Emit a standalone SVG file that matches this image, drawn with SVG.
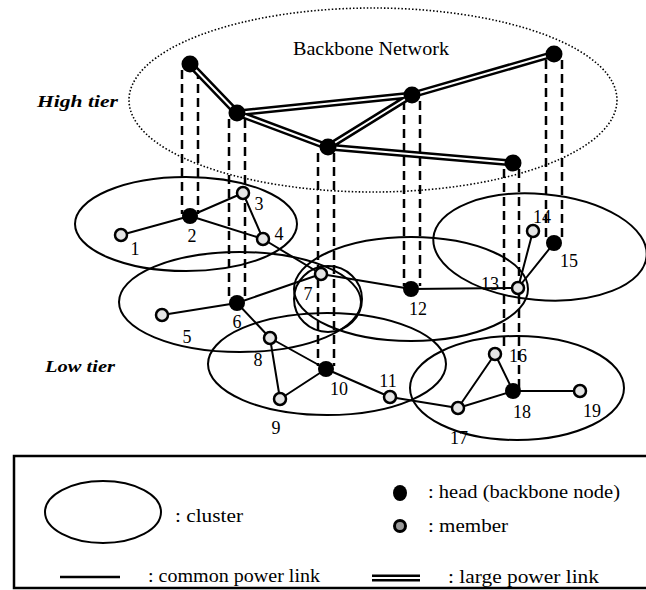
<svg xmlns="http://www.w3.org/2000/svg" width="646" height="590" viewBox="0 0 646 590">
<style>
text{font-family:"Liberation Serif","Times New Roman",serif;fill:#000}
.lbl{font-size:18px;text-anchor:middle}
.tier{font-size:17px;font-weight:bold;font-style:italic}
.leg{font-size:18px}
.cl{fill:none;stroke:#000;stroke-width:2}
.bb{fill:none;stroke:#000;stroke-width:1.6;stroke-dasharray:1.5 2}
.dash{stroke:#000;stroke-width:2.5;stroke-dasharray:9 5;fill:none}
.ln{stroke:#000;stroke-width:2;fill:none}
.big{stroke:#000;stroke-width:7;fill:none;stroke-linecap:round}
.bigw{stroke:#fff;stroke-width:2;fill:none}
.head{fill:#000}
.mem{fill:#e4e4e4;stroke:#000;stroke-width:2.5}
</style>
<rect width="646" height="590" fill="#fff"/>

<g id="clusters">
<ellipse id="backbone" class="bb" cx="373" cy="100" rx="244" ry="92"/>
<ellipse id="c1" class="cl" cx="186" cy="224" rx="111" ry="47"/>
<ellipse id="c2" class="cl" cx="240" cy="302" rx="121" ry="50"/>
<ellipse id="c3" class="cl" cx="328" cy="299" rx="34" ry="33"/>
<ellipse id="c4" class="cl" cx="411" cy="289" rx="117" ry="52"/>
<ellipse id="c5" class="cl" cx="540" cy="247" rx="107" ry="53" transform="rotate(5 540 247)"/>
<ellipse id="c6" class="cl" cx="327" cy="364" rx="119" ry="51"/>
<ellipse id="c7" class="cl" cx="517" cy="388" rx="107" ry="52"/>
</g>

<g id="connectors">
<g id="vertical-links">
<line class="dash" x1="182" y1="70" x2="182" y2="214"/>
<line class="dash" x1="198" y1="70" x2="198" y2="214"/>
<line class="dash" x1="229" y1="119" x2="229" y2="300"/>
<line class="dash" x1="245" y1="119" x2="245" y2="300"/>
<line class="dash" x1="318" y1="153" x2="318" y2="366"/>
<line class="dash" x1="334" y1="153" x2="334" y2="366"/>
<line class="dash" x1="404" y1="101" x2="404" y2="286"/>
<line class="dash" x1="420" y1="101" x2="420" y2="286"/>
<line class="dash" x1="504" y1="169" x2="504" y2="348"/>
<line class="dash" x1="519" y1="169" x2="519" y2="388"/>
<line class="dash" x1="546" y1="60" x2="546" y2="238"/>
<line class="dash" x1="562" y1="60" x2="562" y2="238"/>
</g>
<g id="large-links">
<path class="big" d="M190 64L237 113M237 113L412 95M237 113L328 147M328 147L412 95M412 95L554 54M328 147L513 163"/>
<path class="bigw" d="M190 64L237 113M237 113L412 95M237 113L328 147M328 147L412 95M412 95L554 54M328 147L513 163"/>
</g>
<g id="common-links">
<path class="ln" d="M121 235L190 216M190 216L243 193M190 216L263 239M243 193L263 239M263 239L321 274M162 315L237 303M237 303L321 274M237 303L270 338M270 338L326 369M270 338L280 399M280 399L326 369M326 369L390 397M390 397L458 408M321 274L411 289M411 289L518 288M518 288L533 231M518 288L554 243M458 408L495 354M495 354L513 391M458 408L513 391M513 391L580 391"/>
</g>
</g>

<g id="high-nodes">
<circle id="h1" class="head" cx="190" cy="64" r="8.5"/>
<circle id="h2" class="head" cx="237" cy="113" r="8.5"/>
<circle id="h3" class="head" cx="412" cy="95" r="8.5"/>
<circle id="h4" class="head" cx="554" cy="54" r="8.5"/>
<circle id="h5" class="head" cx="328" cy="147" r="8.5"/>
<circle id="h6" class="head" cx="513" cy="163" r="8.5"/>
</g>

<g id="n1"><circle class="mem" cx="121" cy="235" r="6"/><text class="lbl" x="135" y="255">1</text></g>
<g id="n2"><circle class="head" cx="190" cy="216" r="8"/><text class="lbl" x="192" y="242">2</text></g>
<g id="n3"><circle class="mem" cx="243" cy="193" r="6"/><text class="lbl" x="259" y="210">3</text></g>
<g id="n4"><circle class="mem" cx="263" cy="239" r="6"/><text class="lbl" x="279" y="240">4</text></g>
<g id="n5"><circle class="mem" cx="162" cy="315" r="6"/><text class="lbl" x="187" y="343">5</text></g>
<g id="n6"><circle class="head" cx="237" cy="303" r="8"/><text class="lbl" x="237" y="328">6</text></g>
<g id="n7"><circle class="mem" cx="321" cy="274" r="6"/><text class="lbl" x="308" y="300">7</text></g>
<g id="n8"><circle class="mem" cx="270" cy="338" r="6"/><text class="lbl" x="258" y="366">8</text></g>
<g id="n9"><circle class="mem" cx="280" cy="399" r="6"/><text class="lbl" x="276" y="434">9</text></g>
<g id="n10"><circle class="head" cx="326" cy="369" r="8"/><text class="lbl" x="339" y="395">10</text></g>
<g id="n11"><circle class="mem" cx="390" cy="397" r="6"/><text class="lbl" x="388" y="387">11</text></g>
<g id="n12"><circle class="head" cx="411" cy="289" r="8"/><text class="lbl" x="418" y="315">12</text></g>
<g id="n13"><circle class="mem" cx="518" cy="288" r="6"/><text class="lbl" x="490" y="290">13</text></g>
<g id="n14"><circle class="mem" cx="533" cy="231" r="6"/><text class="lbl" x="542" y="223">14</text></g>
<g id="n15"><circle class="head" cx="554" cy="243" r="8"/><text class="lbl" x="569" y="267">15</text></g>
<g id="n16"><circle class="mem" cx="495" cy="354" r="6"/><text class="lbl" x="518" y="362">16</text></g>
<g id="n17"><circle class="mem" cx="458" cy="408" r="6"/><text class="lbl" x="459" y="444">17</text></g>
<g id="n18"><circle class="head" cx="513" cy="391" r="8"/><text class="lbl" x="522" y="418">18</text></g>
<g id="n19"><circle class="mem" cx="580" cy="391" r="6"/><text class="lbl" x="592" y="417">19</text></g>

<g id="labels">
<text x="293" y="55" font-size="19" textLength="156" lengthAdjust="spacingAndGlyphs">Backbone Network</text>
<text class="tier" x="37" y="107" textLength="81" lengthAdjust="spacingAndGlyphs">High tier</text>
<text class="tier" x="45" y="372" textLength="70" lengthAdjust="spacingAndGlyphs">Low tier</text>
</g>

<g id="legend">
<rect x="14" y="456" width="640" height="132" fill="none" stroke="#000" stroke-width="2.5"/>
<ellipse class="cl" cx="103" cy="512" rx="58" ry="31" stroke-width="2.5"/>
<text class="leg" x="175" y="522" textLength="68" lengthAdjust="spacingAndGlyphs">: cluster</text>
<ellipse class="head" cx="400" cy="493" rx="7" ry="8"/>
<text class="leg" x="428" y="498" textLength="192" lengthAdjust="spacingAndGlyphs">: head (backbone node)</text>
<circle cx="400" cy="526" r="5.5" fill="#999" stroke="#000" stroke-width="3"/>
<text class="leg" x="428" y="532" textLength="80" lengthAdjust="spacingAndGlyphs">: member</text>
<line x1="60" y1="577" x2="120" y2="577" stroke="#000" stroke-width="2.5"/>
<text class="leg" x="148" y="582" textLength="172" lengthAdjust="spacingAndGlyphs">: common power link</text>
<line x1="372" y1="578" x2="420" y2="578" stroke="#000" stroke-width="7"/>
<line x1="372" y1="578" x2="420" y2="578" stroke="#fff" stroke-width="2"/>
<text class="leg" x="448" y="583" textLength="151" lengthAdjust="spacingAndGlyphs">: large power link</text>
</g>
</svg>
